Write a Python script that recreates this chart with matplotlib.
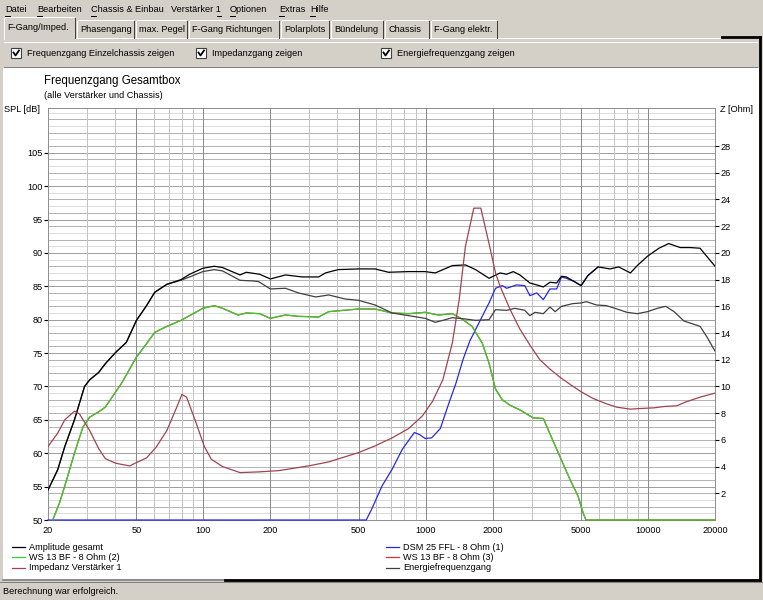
import numpy as np
import matplotlib
matplotlib.use('Agg')
import matplotlib.pyplot as plt
from matplotlib.patches import Rectangle
from matplotlib.lines import Line2D

plt.rcParams['font.family'] = ['Liberation Sans', 'DejaVu Sans']

W, H = 763, 600

# ---- data ----
freq_amp = [20, 22.1, 23.8, 26.3, 29.2, 30.8, 33.8, 36.2, 40.3, 45, 50, 55.5, 60.4, 68.5, 79.3, 86.7,
            99.4, 112, 122, 146, 156, 179, 200, 234, 278, 330, 354, 404, 499, 592, 680, 838, 994,
            1104, 1317, 1507, 1675, 1926, 2160, 2312, 2475, 2650, 2940, 3160, 3380, 3620, 3880,
            4080, 4290, 4660, 5000, 5360, 5960, 6740, 7370, 8330, 8940, 9940, 11190, 12390, 13940,
            15450, 17130, 20000]
spl_amp = [54.5, 57.5, 61, 65, 70, 71, 72.1, 73.4, 75.1, 76.6, 79.9, 82.1, 84.1, 85.3, 86.0, 86.8,
           87.7, 88.0, 87.8, 86.7, 87.1, 86.8, 86.1, 86.7, 86.4, 86.4, 87.0, 87.5, 87.6, 87.6, 87.1, 87.2, 87.2,
           87.0, 88.1, 88.2, 87.5, 86.2, 87.0, 86.8, 87.2, 86.7, 85.5, 85.2, 84.9, 85.6, 85.5,
           86.5, 86.4, 85.7, 85.1, 86.6, 87.9, 87.6, 87.9, 87.0, 88.1, 89.5, 90.7, 91.4, 90.8,
           90.8, 90.7, 88.0]

freq_energy = [20, 22.1, 23.8, 26.3, 29.2, 30.8, 33.8, 36.2, 40.3, 45, 50, 55.5, 60.4, 68.5, 79.3, 86.7,
               99.4, 112, 122, 146, 167, 177, 200, 234, 268, 320, 366, 434, 499, 592, 706, 838, 994,
               1104, 1225, 1317, 1507, 1675, 1926, 2060, 2312, 2520, 2790, 2940, 3100, 3380, 3620,
               3820, 4080, 4580, 5000, 5280, 5860, 6500, 7100, 8040, 8940, 9940, 11000, 12000, 13100,
               14500, 15450, 17130, 18330, 20000]
spl_energy = [54.5, 57.5, 61, 65, 70, 71, 72.1, 73.4, 75.1, 76.6, 79.9, 82.1, 84.1, 85.3, 85.9, 86.4,
              87.2, 87.5, 87.3, 85.9, 85.8, 85.7, 84.6, 84.7, 84.0, 83.4, 83.7, 83.1, 82.9, 82.2, 81.0, 80.6, 80.2,
              79.6, 80.0, 80.3, 80.1, 79.9, 80.0, 81.5, 81.4, 81.7, 81.4, 80.6, 81.1, 80.9, 81.9,
              81.2, 82.0, 82.4, 82.5, 82.7, 82.2, 82.1, 81.7, 81.1, 80.9, 81.2, 81.7, 82.0, 81.2,
              79.8, 79.5, 79.0, 77.5, 75.3]

freq_ws13 = [21, 22.5, 24, 26.3, 28.7, 30.8, 33.8, 36.2, 42.7, 50, 55.5, 60.4, 68.5, 79.3, 99.4, 112,
             122, 143, 156, 179, 200, 234, 268, 330, 366, 499, 592, 706, 838, 994, 1140, 1317,
             1456, 1616, 1795, 1926, 2060, 2210, 2390, 2650, 3040, 3380, 3940, 4450, 4840, 5120,
             5260, 20000]
spl_ws13 = [50, 52.5, 55.5, 60, 63.9, 65.4, 66.2, 66.9, 70.4, 74.4, 76.4, 78.1, 79.0, 79.9, 81.7, 82.1,
            81.7, 80.7, 81.0, 80.9, 80.2, 80.7, 80.5, 80.4, 81.2, 81.6, 81.6, 81.0, 80.9, 81.1, 80.7, 80.9,
            80.1, 79.0, 76.5, 73.5, 69.6, 68.0, 67.2, 66.5, 65.3, 65.2, 60.1, 56.1, 53.6, 50.9,
            50, 50]
# second woofer is the same chassis, its curve lies under the green one
freq_ws13_b = freq_ws13
spl_ws13_b = spl_ws13

freq_dsm = [20, 540, 571, 636, 706, 785, 889, 937, 994, 1063, 1163, 1274, 1368, 1470, 1578, 1675,
            1795, 1926, 2060, 2210, 2312, 2560, 2790, 2940, 3160, 3380, 3620, 3880, 4080, 4290,
            4660, 5000, 5360, 5960]
spl_dsm = [50, 50, 51.6, 55.1, 57.6, 60.6, 63.1, 62.8, 62.2, 62.3, 63.7, 67.6, 70.5, 74.0, 76.8, 78.5,
           80.5, 82.5, 84.7, 85.1, 84.7, 85.2, 85.1, 83.6, 84.0, 83.0, 84.6, 84.6, 86.4, 86.2,
           85.7, 85.1, 86.6, 87.9]

freq_imp = [20, 22.1, 23.8, 26.3, 27.7, 30.8, 33.8, 36.2, 40.3, 46.6, 50, 55.5, 61.3, 68.5, 75.9, 80,
            84, 91.9, 101, 108.5, 122, 146, 177, 219, 297, 366, 499, 592, 706, 838, 967, 1074,
            1194, 1317, 1414, 1507, 1645, 1769, 1926, 2060, 2160, 2390, 2650, 2940, 3260, 3620,
            4010, 4510, 5000, 5660, 6500, 7230, 8330, 9250, 10650, 11850, 13450, 14850, 17130, 20000]
z_imp = [5.5, 6.5, 7.5, 8.15, 7.95, 6.7, 5.35, 4.6, 4.25, 4.05, 4.3, 4.65, 5.45, 6.7, 8.45, 9.4,
         9.2, 7.45, 5.5, 4.55, 4.0, 3.55, 3.6, 3.7, 4.05, 4.35, 5.05, 5.55, 6.15, 6.85, 7.8, 8.9,
         10.5, 13.25, 16.5, 20.45, 23.35, 23.35, 20.7, 18.5, 17.5, 15.8, 14.3, 13.1, 12.0, 11.3,
         10.7, 10.1, 9.6, 9.1, 8.7, 8.45, 8.3, 8.35, 8.4, 8.5, 8.55, 8.85, 9.2, 9.5]

x_ticks = [20, 50, 100, 200, 500, 1000, 2000, 5000, 10000, 20000]
spl_ticks = [50, 55, 60, 65, 70, 75, 80, 85, 90, 95, 100, 105]
z_ticks = [2, 4, 6, 8, 10, 12, 14, 16, 18, 20, 22, 24, 26, 28]

menu_items = ['Datei', 'Bearbeiten', 'Chassis & Einbau', 'Verstärker 1', 'Optionen', 'Extras', 'Hilfe']
tab_names = ['F-Gang/Imped.', 'Phasengang', 'max. Pegel', 'F-Gang Richtungen', 'Polarplots',
             'Bündelung', 'Chassis', 'F-Gang elektr.']
check_labels = ['Frequenzgang Einzelchassis zeigen', 'Impedanzgang zeigen', 'Energiefrequenzgang zeigen']

BG = '#d4d0c8'
FS = 6.6

fig = plt.figure(figsize=(W / 100, H / 100), dpi=100, facecolor=BG)


def fx(x):
    return x / W


def fy(y):
    return 1 - y / H


def rect(x0, y0, x1, y1, **kw):
    fig.add_artist(Rectangle((fx(x0), fy(y1)), (x1 - x0) / W, (y1 - y0) / H,
                             transform=fig.transFigure, zorder=-5, **kw))


def line(xs, ys, color, lw=0.72, z=-4):
    fig.add_artist(Line2D([fx(v) for v in xs], [fy(v) for v in ys],
                          transform=fig.transFigure, color=color, lw=lw, zorder=z))


def txt(x, y, s, **kw):
    kw.setdefault('fontsize', FS)
    return fig.text(fx(x), fy(y), s, va='center', ha=kw.pop('ha', 'left'), **kw)


# menu bar, with the underlined shortcut letters
menu_x = [5, 37, 91, 171, 230, 279, 310]
renderer = fig.canvas.get_renderer()
for name, x in zip(menu_items, menu_x):
    t = txt(x, 10, name)
    bb = t.get_window_extent(renderer)
    if name.endswith('1'):
        line([x + bb.width - 4, x + bb.width], [15.5, 15.5], 'black', 0.7, 1)
    else:
        line([x, x + 5], [15.5, 15.5], 'black', 0.7, 1)

# tabs
tab_edges = [3, 76, 135, 188, 280, 330, 384, 430, 498]
line([76, 759], [38, 38], 'white')
for i, name in enumerate(tab_names):
    x0, x1 = tab_edges[i], tab_edges[i + 1]
    top = 17 if i == 0 else 20
    line([x0 + 1, x0 + 1], [38 if i else 39, top + 1], 'white')
    line([x0 + 2, x1 - 2], [top, top], 'white')
    line([x1 - 1, x1 - 1], [top + 1, 38], '#404040')
    txt(x0 + 4, 29 if i else 28, name)

# tab page border (dark right side)
line([722, 760], [36.5, 36.5], 'black', lw=2)
line([760, 760], [36.5, 580], 'black', lw=2)

# checkbox panel
line([4, 757], [42, 42], 'white')
line([4, 757], [67, 67], '#808080')
for label, bx in zip(check_labels, [11, 196, 381]):
    fig.add_artist(Rectangle((fx(bx), fy(58)), 10 / W, 10 / H, transform=fig.transFigure,
                             facecolor='white', edgecolor='#404040', lw=0.8))
    fig.add_artist(Line2D([fx(bx + 2.5), fx(bx + 4.5), fx(bx + 8)], [fy(52.5), fy(55.5), fy(50.5)],
                          transform=fig.transFigure, color='black', lw=1.3))
    txt(bx + 16, 53, label)

# white chart panel
rect(3, 68, 759, 579, facecolor='white', edgecolor='none')
line([3, 225], [579.5, 579.5], '#808080', lw=1.2)
line([225, 760], [579.5, 579.5], 'black', lw=2)

# status bar
line([0, 763], [582, 582], '#808080')
txt(3, 592, 'Berechnung war erfolgreich.')

# titles
txt(44, 81, 'Frequenzgang Gesamtbox', fontsize=8.3)
txt(44, 96, '(alle Verstärker und Chassis)')
txt(4, 110, 'SPL [dB]')
txt(720, 110, 'Z [Ohm]')

# ---- chart ----
top_db = 111.7
ax = fig.add_axes([fx(48), fy(520), (715 - 48) / W, (520 - 108) / H])
ax.set_xscale('log')
ax.set_xlim(20, 20000)
ax.set_ylim(50, top_db)

for v in np.arange(51, top_db, 1.0):
    ax.axhline(v, color='#dcdcdc', lw=0.72, zorder=0)
for v in np.arange(52, top_db, 2.0):
    ax.axhline(v, color='#b4b4b4', lw=0.72, zorder=0)
for v in spl_ticks[1:]:
    ax.axhline(v, color='#a0a0a0', lw=0.72, zorder=0)
for dec in [10, 100, 1000, 10000]:
    for m in range(2, 10):
        f = dec * m
        if 20 < f < 20000:
            c = '#8c8c8c' if m in (2, 5) else '#c4c4c4'
            ax.axvline(f, color=c, lw=0.72, zorder=0)
for f in [100, 1000, 10000]:
    ax.axvline(f, color='#8c8c8c', lw=0.72, zorder=0)

lw = 0.9
l_dsm, = ax.plot(freq_dsm, spl_dsm, color='#2828e6', lw=lw, clip_on=False, zorder=3)
l_ws3, = ax.plot(freq_ws13_b, spl_ws13_b, color='#e03030', lw=lw, clip_on=False, zorder=3)
l_ws2, = ax.plot(freq_ws13, spl_ws13, color='#30d030', lw=lw, clip_on=False, zorder=3)
l_en, = ax.plot(freq_energy, spl_energy, color='#404040', lw=lw, zorder=3)
l_amp, = ax.plot(freq_amp, spl_amp, color='black', lw=lw, zorder=3)

ax.set_xticks(x_ticks)
ax.set_xticklabels([str(v) for v in x_ticks])
ax.xaxis.set_minor_locator(matplotlib.ticker.NullLocator())
ax.set_yticks(spl_ticks)
ax.tick_params(axis='x', length=0, pad=4, labelsize=FS)
ax.tick_params(axis='y', length=3, width=0.8, pad=1, labelsize=FS, direction='out')
for s in ax.spines.values():
    s.set_color('#909090')
    s.set_linewidth(0.72)

ax2 = ax.twinx()
ax2.set_ylim(0, (top_db - 50) / 2)
l_imp, = ax2.plot(freq_imp, z_imp, color='#a04450', lw=lw)
ax2.set_yticks(z_ticks)
ax2.tick_params(axis='y', length=3, width=0.8, pad=1, labelsize=FS, direction='out')
for s in ax2.spines.values():
    s.set_visible(False)

# legend, two columns like the program draws it
legend_rows = [(l_amp, 'Amplitude gesamt', 12, 547), (l_ws2, 'WS 13 BF - 8 Ohm (2)', 12, 557),
               (l_imp, 'Impedanz Verstärker 1', 12, 568), (l_dsm, 'DSM 25 FFL - 8 Ohm (1)', 386, 547),
               (l_ws3, 'WS 13 BF - 8 Ohm (3)', 386, 557), (l_en, 'Energiefrequenzgang', 386, 568)]
for handle, label, x, y in legend_rows:
    fig.add_artist(Line2D([fx(x), fx(x + 13)], [fy(y), fy(y)], transform=fig.transFigure,
                          color=handle.get_color(), lw=0.9))
    txt(x + 17, y, label)

plt.savefig('out.png', dpi=100, facecolor=BG)
